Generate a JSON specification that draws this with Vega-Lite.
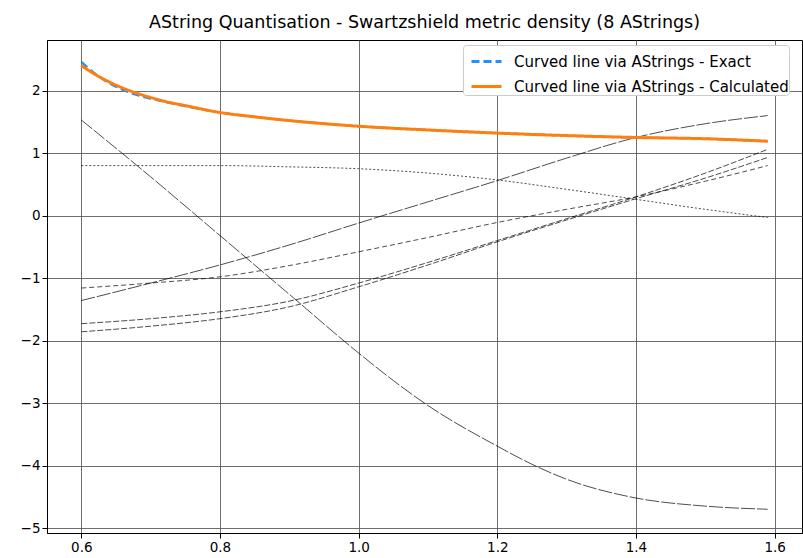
{
  "$schema": "https://vega.github.io/schema/vega-lite/v6.json",
  "width": 755,
  "height": 493,
  "autosize": {"type": "none"},
  "padding": {"left": 47, "top": 40, "right": 1, "bottom": 25},
  "background": "white",
  "title": {"text": "AString Quantisation - Swartzshield metric density (8 AStrings)", "font": "DejaVu Sans", "fontSize": 17.5, "fontWeight": "normal", "color": "black", "offset": 9},
  "config": {
    "view": {"stroke": "black", "strokeWidth": 1},
    "axis": {"labelFont": "DejaVu Sans", "labelFontSize": 13.5, "labelColor": "black", "domainColor": "black", "tickColor": "black", "tickSize": 5, "gridColor": "#555", "gridOpacity": 0.85, "gridWidth": 1, "title": null}
  },
  "datasets": {
    "curves": [
      {"s": "Curved line via AStrings - Exact", "x": 0.6, "y": 2.46},
      {"s": "Curved line via AStrings - Exact", "x": 0.62, "y": 2.27},
      {"s": "Curved line via AStrings - Exact", "x": 0.64, "y": 2.12},
      {"s": "Curved line via AStrings - Exact", "x": 0.66, "y": 2.01},
      {"s": "Curved line via AStrings - Exact", "x": 0.68, "y": 1.93},
      {"s": "Curved line via AStrings - Exact", "x": 0.7, "y": 1.87},
      {"s": "Curved line via AStrings - Exact", "x": 0.72, "y": 1.82},
      {"s": "Curved line via AStrings - Exact", "x": 0.75, "y": 1.75},
      {"s": "Curved line via AStrings - Exact", "x": 0.8, "y": 1.65},
      {"s": "Curved line via AStrings - Exact", "x": 0.85, "y": 1.58},
      {"s": "Curved line via AStrings - Exact", "x": 0.9, "y": 1.52},
      {"s": "Curved line via AStrings - Exact", "x": 1.0, "y": 1.43},
      {"s": "Curved line via AStrings - Exact", "x": 1.1, "y": 1.37},
      {"s": "Curved line via AStrings - Exact", "x": 1.2, "y": 1.32},
      {"s": "Curved line via AStrings - Exact", "x": 1.3, "y": 1.28},
      {"s": "Curved line via AStrings - Exact", "x": 1.4, "y": 1.25},
      {"s": "Curved line via AStrings - Exact", "x": 1.5, "y": 1.23},
      {"s": "Curved line via AStrings - Exact", "x": 1.59, "y": 1.19},
      {"s": "Curved line via AStrings - Calculated", "x": 0.6, "y": 2.40},
      {"s": "Curved line via AStrings - Calculated", "x": 0.62, "y": 2.26},
      {"s": "Curved line via AStrings - Calculated", "x": 0.64, "y": 2.14},
      {"s": "Curved line via AStrings - Calculated", "x": 0.66, "y": 2.04},
      {"s": "Curved line via AStrings - Calculated", "x": 0.68, "y": 1.96},
      {"s": "Curved line via AStrings - Calculated", "x": 0.7, "y": 1.89},
      {"s": "Curved line via AStrings - Calculated", "x": 0.72, "y": 1.83},
      {"s": "Curved line via AStrings - Calculated", "x": 0.75, "y": 1.76},
      {"s": "Curved line via AStrings - Calculated", "x": 0.8, "y": 1.65},
      {"s": "Curved line via AStrings - Calculated", "x": 0.85, "y": 1.58},
      {"s": "Curved line via AStrings - Calculated", "x": 0.9, "y": 1.52},
      {"s": "Curved line via AStrings - Calculated", "x": 1.0, "y": 1.43},
      {"s": "Curved line via AStrings - Calculated", "x": 1.1, "y": 1.37},
      {"s": "Curved line via AStrings - Calculated", "x": 1.2, "y": 1.32},
      {"s": "Curved line via AStrings - Calculated", "x": 1.3, "y": 1.28},
      {"s": "Curved line via AStrings - Calculated", "x": 1.4, "y": 1.25},
      {"s": "Curved line via AStrings - Calculated", "x": 1.5, "y": 1.23},
      {"s": "Curved line via AStrings - Calculated", "x": 1.59, "y": 1.19}
    ],
    "strings": [
      {"s": "A", "x": 0.6, "y": 1.53}, {"s": "A", "x": 0.7, "y": 0.62}, {"s": "A", "x": 0.8, "y": -0.32},
      {"s": "A", "x": 0.9, "y": -1.26}, {"s": "A", "x": 1.0, "y": -2.2}, {"s": "A", "x": 1.05, "y": -2.64},
      {"s": "A", "x": 1.1, "y": -3.04}, {"s": "A", "x": 1.2, "y": -3.69}, {"s": "A", "x": 1.25, "y": -3.98},
      {"s": "A", "x": 1.3, "y": -4.22}, {"s": "A", "x": 1.4, "y": -4.52}, {"s": "A", "x": 1.5, "y": -4.65},
      {"s": "A", "x": 1.59, "y": -4.70},
      {"s": "B", "x": 0.6, "y": 0.80}, {"s": "B", "x": 0.7, "y": 0.80}, {"s": "B", "x": 0.8, "y": 0.80},
      {"s": "B", "x": 0.9, "y": 0.78}, {"s": "B", "x": 1.0, "y": 0.75}, {"s": "B", "x": 1.1, "y": 0.68},
      {"s": "B", "x": 1.2, "y": 0.57}, {"s": "B", "x": 1.3, "y": 0.42}, {"s": "B", "x": 1.4, "y": 0.26},
      {"s": "B", "x": 1.5, "y": 0.10}, {"s": "B", "x": 1.59, "y": -0.03},
      {"s": "C", "x": 0.6, "y": -1.36}, {"s": "C", "x": 0.7, "y": -1.08}, {"s": "C", "x": 0.8, "y": -0.79},
      {"s": "C", "x": 0.9, "y": -0.47}, {"s": "C", "x": 1.0, "y": -0.12}, {"s": "C", "x": 1.1, "y": 0.22},
      {"s": "C", "x": 1.2, "y": 0.56}, {"s": "C", "x": 1.3, "y": 0.92}, {"s": "C", "x": 1.4, "y": 1.25},
      {"s": "C", "x": 1.5, "y": 1.47}, {"s": "C", "x": 1.59, "y": 1.60},
      {"s": "D", "x": 0.6, "y": -1.16}, {"s": "D", "x": 0.7, "y": -1.08}, {"s": "D", "x": 0.8, "y": -0.98},
      {"s": "D", "x": 0.9, "y": -0.80}, {"s": "D", "x": 1.0, "y": -0.58}, {"s": "D", "x": 1.1, "y": -0.35},
      {"s": "D", "x": 1.2, "y": -0.11}, {"s": "D", "x": 1.3, "y": 0.10}, {"s": "D", "x": 1.4, "y": 0.30},
      {"s": "D", "x": 1.5, "y": 0.55}, {"s": "D", "x": 1.59, "y": 0.80},
      {"s": "E", "x": 0.6, "y": -1.73}, {"s": "E", "x": 0.7, "y": -1.65}, {"s": "E", "x": 0.8, "y": -1.54},
      {"s": "E", "x": 0.9, "y": -1.37}, {"s": "E", "x": 1.0, "y": -1.08}, {"s": "E", "x": 1.1, "y": -0.75},
      {"s": "E", "x": 1.2, "y": -0.40}, {"s": "E", "x": 1.3, "y": -0.05}, {"s": "E", "x": 1.4, "y": 0.30},
      {"s": "E", "x": 1.5, "y": 0.68}, {"s": "E", "x": 1.59, "y": 1.06},
      {"s": "F", "x": 0.6, "y": -1.86}, {"s": "F", "x": 0.7, "y": -1.77}, {"s": "F", "x": 0.8, "y": -1.65},
      {"s": "F", "x": 0.9, "y": -1.46}, {"s": "F", "x": 1.0, "y": -1.14}, {"s": "F", "x": 1.1, "y": -0.79},
      {"s": "F", "x": 1.2, "y": -0.42}, {"s": "F", "x": 1.3, "y": -0.07}, {"s": "F", "x": 1.4, "y": 0.27},
      {"s": "F", "x": 1.5, "y": 0.60}, {"s": "F", "x": 1.59, "y": 0.93}
    ]
  },
  "encoding": {
    "x": {"field": "x", "type": "quantitative", "scale": {"domain": [0.5505, 1.6395], "nice": false, "zero": false},
          "axis": {"values": [0.6, 0.8, 1.0, 1.2, 1.4, 1.6], "format": ".1f"}},
    "y": {"field": "y", "type": "quantitative", "scale": {"domain": [-5.08, 2.81], "nice": false, "zero": false},
          "axis": {"values": [-5, -4, -3, -2, -1, 0, 1, 2], "format": "d", "labelExpr": "replace(datum.label, '-', '\u2212')"}},
    "color": {"field": "s", "type": "nominal",
      "scale": {"domain": ["Curved line via AStrings - Exact", "Curved line via AStrings - Calculated", "A", "B", "C", "D", "E", "F"],
                "range": ["#1e90ff", "#ff7f0e", "black", "black", "black", "black", "black", "black"]},
      "legend": {"values": ["Curved line via AStrings - Exact", "Curved line via AStrings - Calculated"], "title": null, "orient": "none", "legendX": 416, "legendY": 5,
        "symbolType": "stroke", "symbolSize": 900, "symbolStrokeWidth": 3, "symbolOffset": 7, "labelFont": "DejaVu Sans", "labelFontSize": 15, "labelColor": "black", "labelOffset": 11, "labelLimit": 0,
        "padding": 0, "rowPadding": -9, "strokeColor": "#cccccc", "fillColor": "white", "cornerRadius": 3}},
    "strokeDash": {"field": "s", "type": "nominal",
      "scale": {"domain": ["Curved line via AStrings - Exact", "Curved line via AStrings - Calculated", "A", "B", "C", "D", "E", "F"],
                "range": [[8, 4], [1, 0], [14, 2], [2, 2], [14, 2], [5, 3], [6, 2], [6, 2]]},
      "legend": {"values": ["Curved line via AStrings - Exact", "Curved line via AStrings - Calculated"], "title": null, "orient": "none", "legendX": 416, "legendY": 5,
        "symbolType": "stroke", "symbolSize": 900, "symbolStrokeWidth": 3, "symbolOffset": 7, "labelFont": "DejaVu Sans", "labelFontSize": 15, "labelColor": "black", "labelOffset": 11, "labelLimit": 0,
        "padding": 0, "rowPadding": -9, "strokeColor": "#cccccc", "fillColor": "white", "cornerRadius": 3}}
  },
  "layer": [
    {"data": {"name": "strings"}, "mark": {"type": "line", "strokeWidth": 0.7, "interpolate": "monotone"}},
    {"data": {"name": "curves"}, "transform": [{"filter": "datum.s == 'Curved line via AStrings - Exact'"}], "mark": {"type": "line", "strokeWidth": 2.2, "interpolate": "monotone"}},
    {"data": {"name": "curves"}, "transform": [{"filter": "datum.s == 'Curved line via AStrings - Calculated'"}], "mark": {"type": "line", "strokeWidth": 3, "interpolate": "monotone"}}
  ]
}
